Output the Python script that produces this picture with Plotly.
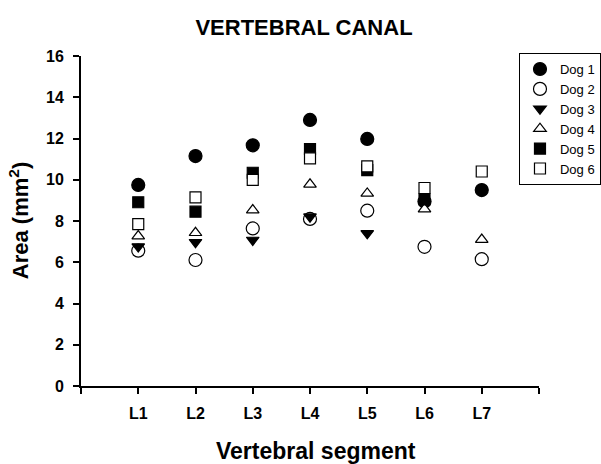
import plotly.graph_objects as go

segments = ["L1", "L2", "L3", "L4", "L5", "L6", "L7"]
seg_pos = [1, 2, 3, 4, 5, 6, 7]

dog1 = [9.75, 11.15, 11.67, 12.9, 11.98, 8.95, 9.5]
dog2 = [6.56, 6.11, 7.64, 8.1, 8.5, 6.75, 6.15]
dog3 = [6.76, 6.97, 7.08, 8.21, 7.4, 8.82, None]
dog4 = [7.27, 7.43, 8.53, 9.78, 9.34, 8.58, 7.1]
dog5 = [8.91, 8.45, 10.34, 11.49, 10.47, 9.05, None]
dog6 = [7.85, 9.15, 9.99, 11.04, 10.65, 9.6, 10.4]

names = ["Dog 1", "Dog 2", "Dog 3", "Dog 4", "Dog 5", "Dog 6"]
series = [dog1, dog2, dog3, dog4, dog5, dog6]
symbols = ["circle", "circle-open", "triangle-down", "triangle-up-open", "square", "square-open"]
sizes = [13, 13, 11, 11, 11, 11]

FONT = "Liberation Sans, Arial, sans-serif"

fig = go.Figure()
for name, vals, sym, sz in zip(names, series, symbols, sizes):
    is_open = sym.endswith("open")
    fig.add_trace(go.Scatter(
        x=seg_pos, y=vals, mode="markers", name=name,
        marker=dict(symbol=sym.replace("-open", "") if is_open else sym,
                    size=sz,
                    color="white" if is_open else "black",
                    line=dict(color="black", width=1.2)),
    ))

# figure is wider than the 601px window so the legend box runs off the right edge, as in the reference
fig.update_layout(
    width=640, height=464,
    margin=dict(l=81, r=101, t=56, b=78),
    paper_bgcolor="white", plot_bgcolor="white",
    showlegend=True,
    title=dict(text="VERTEBRAL CANAL", x=304 / 640, xref="container", xanchor="center",
               y=0.942, yref="container", yanchor="middle",
               font=dict(family=FONT, size=22, color="black", weight="bold")),
    legend=dict(x=0.9563, y=1.009, xanchor="left", yanchor="top",
                bordercolor="black", borderwidth=1, bgcolor="white",
                font=dict(family=FONT, size=13, color="black"),
                itemwidth=30, tracegroupgap=0),
    font=dict(family=FONT, color="black"),
    annotations=[
        dict(text="Vertebral segment", xref="paper", yref="paper",
             x=0.513, y=-0.197, xanchor="center", yanchor="middle", showarrow=False,
             font=dict(family=FONT, size=23, color="black", weight="bold")),
        dict(text="Area (mm<sup>2</sup>)", xref="paper", yref="paper",
             x=-0.135, y=0.5, xanchor="center", yanchor="middle", showarrow=False,
             textangle=-90,
             font=dict(family=FONT, size=22, color="black", weight="bold")),
    ],
)

fig.update_xaxes(
    range=[0, 8], tickvals=[0, 1, 2, 3, 4, 5, 6, 7, 8],
    ticktext=[""] + segments + [""],
    showline=True, linecolor="black", linewidth=2,
    ticks="outside", ticklen=6, tickwidth=2, tickcolor="black",
    showgrid=False, zeroline=False, ticklabelstandoff=6,
    tickfont=dict(family=FONT, size=16, color="black", weight="bold"),
)
fig.update_yaxes(
    range=[0, 16], tickvals=[0, 2, 4, 6, 8, 10, 12, 14, 16],
    showline=True, linecolor="black", linewidth=2,
    ticks="outside", ticklen=6, tickwidth=2, tickcolor="black",
    showgrid=False, zeroline=False, ticklabelstandoff=6,
    tickfont=dict(family=FONT, size=16, color="black", weight="bold"),
)

fig.write_html(
    "out.html",
    config={"displayModeBar": False},
    post_script="document.body.style.margin='0';document.body.style.overflow='hidden';",
)
